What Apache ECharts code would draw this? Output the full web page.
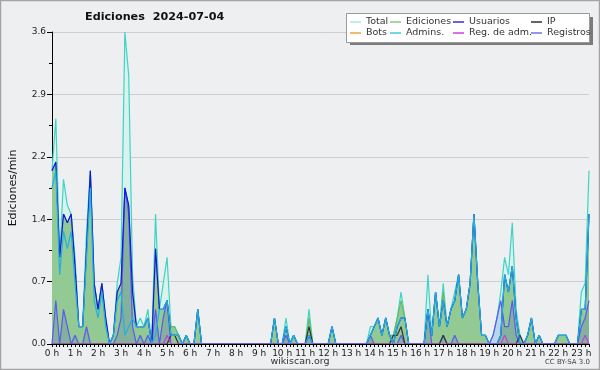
<!DOCTYPE html>
<html>
<head>
<meta charset="utf-8">
<script src="https://cdn.jsdelivr.net/npm/echarts@6/dist/echarts.min.js"></script>
<style>
  html, body { margin: 0; padding: 0; background: #eeeff1; }
  #chart { width: 600px; height: 370px; }
</style>
</head>
<body>
<div id="chart"></div>
<script>
// one value every 10 minutes, 0:00 .. 23:20 (edits per minute)
const horas = ["0 h", "1 h", "2 h", "3 h", "4 h", "5 h", "6 h", "7 h", "8 h", "9 h", "10 h", "11 h",
  "12 h", "13 h", "14 h", "15 h", "16 h", "17 h", "18 h", "19 h", "20 h", "21 h", "22 h", "23 h"];

const total = [
  2.0,2.6,1.0,1.9,1.6,1.5, 1.0,0.2,0.2,1.3,2.0,0.7, 0.4,0.7,0.3,0,0.1,0.7, 1.0,3.6,3.1,0.8,0.2,0.3, 0.2,0.4,0,1.5,0.4,0.7, 1.0,0.2,0.2,0.1,0,0.1,
  0,0,0.4,0,0,0, 0,0,0,0,0,0, 0,0,0,0,0,0, 0,0,0,0,0.3,0, 0,0.3,0,0.1,0,0, 0,0.4,0,0,0,0,
  0,0.2,0,0,0,0, 0,0,0,0,0,0.2, 0.2,0.3,0.1,0.3,0.1,0.1, 0.3,0.6,0.3,0,0,0, 0,0,0.8,0.1,0.6,0.2, 0.7,0.2,0.4,0.6,0.8,0.3,
  0.4,0.7,1.5,0.7,0.1,0.1, 0,0.1,0.3,0.6,1.0,0.8, 1.4,0.4,0.1,0,0.1,0.3, 0,0.1,0,0,0,0, 0.1,0.1,0.1,0,0,0, 0.6,0.7,2.0
];
const ediciones = [
  2.0,2.1,1.0,1.5,1.4,1.5, 0.9,0.2,0.2,1.1,2.0,0.7, 0.4,0.7,0.3,0,0.1,0.6, 0.7,1.8,1.6,0.6,0.2,0.2, 0.2,0.3,0,1.1,0.4,0.4, 0.5,0.2,0.2,0.1,0,0.1,
  0,0,0.4,0,0,0, 0,0,0,0,0,0, 0,0,0,0,0,0, 0,0,0,0,0.3,0, 0,0.2,0,0.1,0,0, 0,0.3,0,0,0,0,
  0,0.2,0,0,0,0, 0,0,0,0,0,0.1, 0.2,0.3,0.1,0.3,0.1,0.1, 0.3,0.5,0.3,0,0,0, 0,0,0.4,0.1,0.6,0.2, 0.6,0.2,0.4,0.5,0.8,0.3,
  0.4,0.7,1.5,0.7,0.1,0.1, 0,0,0,0.1,0.8,0.6, 0.9,0.3,0.1,0,0.1,0.3, 0,0.1,0,0,0,0, 0.1,0.1,0.1,0,0,0, 0.4,0.4,1.5
];
const usuarios = [
  2.0,2.1,1.0,1.5,1.4,1.5, 0.9,0.2,0.2,1.1,2.0,0.7, 0.4,0.7,0.3,0,0.1,0.6, 0.7,1.8,1.6,0.6,0.2,0.2, 0.2,0.3,0,1.1,0.4,0.4, 0.5,0.1,0.1,0.1,0,0.1,
  0,0,0.4,0,0,0, 0,0,0,0,0,0, 0,0,0,0,0,0, 0,0,0,0,0.3,0, 0,0.2,0,0.1,0,0, 0,0.1,0,0,0,0,
  0,0.2,0,0,0,0, 0,0,0,0,0,0.1, 0.2,0.3,0.1,0.3,0.1,0, 0.2,0.3,0.3,0,0,0, 0,0,0.4,0.1,0.6,0.2, 0.5,0.2,0.4,0.5,0.8,0.3,
  0.4,0.7,1.5,0.7,0.1,0.1, 0,0,0,0.1,0.8,0.6, 0.9,0.3,0,0,0.1,0.3, 0,0.1,0,0,0,0, 0.1,0.1,0.1,0,0,0, 0.4,0.4,1.5
];
const ip = [
  0,0,0,0,0,0, 0,0,0,0,0,0, 0,0,0,0,0,0, 0,0,0,0,0,0, 0,0,0,0,0,0, 0,0.1,0.1,0,0,0,
  0,0,0,0,0,0, 0,0,0,0,0,0, 0,0,0,0,0,0, 0,0,0,0,0,0, 0,0,0,0,0,0, 0,0.2,0,0,0,0,
  0,0,0,0,0,0, 0,0,0,0,0,0, 0,0,0,0,0,0.1, 0.1,0.2,0,0,0,0, 0,0,0,0,0,0, 0.1,0,0,0,0,0,
  0,0,0,0,0,0, 0,0,0,0,0,0, 0,0,0.1,0,0,0, 0,0,0,0,0,0, 0,0,0,0,0,0, 0,0,0
];
const bots = [
  0,0,0,0,0,0, 0,0,0,0,0,0, 0,0,0,0,0,0, 0,0,0,0,0,0, 0,0,0,0,0,0, 0,0,0,0,0,0,
  0,0,0,0,0,0, 0,0,0,0,0,0, 0,0,0,0,0,0, 0,0,0,0,0,0, 0,0,0,0,0,0, 0,0,0,0,0,0,
  0,0,0,0,0,0, 0,0,0,0,0,0, 0,0,0,0,0,0, 0,0,0,0,0,0, 0,0,0,0,0,0, 0,0,0,0,0,0,
  0,0,0,0,0,0, 0,0,0,0,0,0, 0,0,0,0,0,0, 0,0,0,0,0,0, 0,0,0,0,0,0, 0,0,0
];
const admins = [
  1.8,2.0,0.8,1.3,1.1,1.3, 0.7,0.2,0.2,1.0,1.8,0.5, 0.3,0.6,0.2,0,0.1,0.5, 0.6,0.1,0.2,0.3,0.2,0.2, 0.2,0.3,0,0.1,0.4,0.4, 0.5,0.1,0.1,0.1,0,0.1,
  0,0,0.4,0,0,0, 0,0,0,0,0,0, 0,0,0,0,0,0, 0,0,0,0,0.3,0, 0,0.2,0,0.1,0,0, 0,0.1,0,0,0,0,
  0,0.2,0,0,0,0, 0,0,0,0,0,0.1, 0.2,0.3,0.1,0.3,0.1,0, 0.2,0.3,0.3,0,0,0, 0,0,0.4,0.1,0.6,0.2, 0.5,0.2,0.4,0.5,0.8,0.3,
  0.4,0.7,1.5,0.7,0.1,0.1, 0,0,0,0.1,0.8,0.6, 0.9,0.3,0,0,0.1,0.3, 0,0.1,0,0,0,0, 0.1,0.1,0.1,0,0,0, 0.4,0.4,1.5
];
const regAdm = [
  0,0,0,0,0,0, 0,0,0,0,0,0, 0,0,0,0,0,0, 0,0,0,0,0,0, 0,0,0,0,0,0, 0.1,0,0,0,0,0,
  0,0,0,0,0,0, 0,0,0,0,0,0, 0,0,0,0,0,0, 0,0,0,0,0,0, 0,0,0,0,0,0, 0,0,0,0,0,0,
  0,0,0,0,0,0, 0,0,0,0,0,0, 0,0,0,0,0,0, 0,0,0,0,0,0, 0,0,0,0,0,0, 0,0,0,0,0,0,
  0,0,0,0,0,0, 0,0,0,0,0.1,0, 0,0,0,0,0,0, 0,0,0,0,0,0, 0,0,0,0,0,0, 0,0.1,0
];
const registros = [
  0,0.5,0,0.4,0.2,0, 0.1,0,0,0.2,0,0, 0,0,0,0,0,0.1, 0.3,1.8,1.5,0.2,0,0.1, 0,0.1,0,0.4,0,0.3, 0.5,0,0,0,0,0,
  0,0,0,0,0,0, 0,0,0,0,0,0, 0,0,0,0,0,0, 0,0,0,0,0,0, 0,0.1,0,0,0,0, 0,0.1,0,0,0,0,
  0,0,0,0,0,0, 0,0,0,0,0,0.1, 0,0,0,0,0,0, 0,0.1,0,0,0,0, 0,0,0.4,0,0,0, 0.1,0,0,0.1,0,0,
  0,0,0,0,0,0, 0,0.1,0.3,0.5,0.2,0.2, 0.5,0.1,0,0,0,0, 0,0,0,0,0,0, 0,0,0,0,0,0, 0.2,0.3,0.5
];

const tiempos = total.map((_, i) => Math.floor(i / 6) + ":" + (i % 6) + "0");

const FONT = "'DejaVu Sans', sans-serif";

function serie(name, data, color, extra) {
  return Object.assign({
    name: name,
    type: "line",
    data: data,
    symbol: "none",
    showSymbol: false,
    lineStyle: { color: color, width: 1.2 },
    itemStyle: { color: color },
    emphasis: { disabled: true },
  }, extra || {});
}

function legendCol(left, items) {
  return {
    orient: "vertical",
    left: left,
    top: 16.5,
    padding: 0,
    itemGap: 0,
    itemWidth: 11,
    itemHeight: 1.5,
    icon: "rect",
    selectedMode: false,
    z: 6,
    textStyle: { fontFamily: FONT, fontSize: 9.5, color: "#333", lineHeight: 11 },
    data: items.map(([name, color]) => ({ name: name, itemStyle: { color: color } })),
  };
}

const chart = echarts.init(document.getElementById("chart"));
chart.setOption({
  animation: false,
  backgroundColor: "#eeeff1",
  title: {
    text: "Ediciones  2024-07-04",
    left: 85,
    top: 12,
    padding: 0,
    textStyle: { fontFamily: FONT, fontWeight: "bold", fontSize: 11.2, color: "#111" },
  },
  legend: [
    legendCol(350, [["Total", "#a8e6e6"], ["Bots", "#f0a040"]]),
    legendCol(390, [["Ediciones", "#80d080"], ["Admins.", "#40c8e0"]]),
    legendCol(453, [["Usuarios", "#3030d0"], ["Reg. de adm.", "#d040e0"]]),
    legendCol(531, [["IP", "#333333"], ["Registros", "#7070f0"]]),
  ],
  graphic: [
    { type: "rect", z: 0, silent: true, shape: { x: 0.5, y: 0.5, width: 599, height: 369 },
      style: { fill: "none", stroke: "#a4a4a4", lineWidth: 1.5 } },
    { type: "rect", z: 5, silent: true, shape: { x: 350, y: 17, width: 243, height: 28 },
      style: { fill: "#7b7b7b" } },
    { type: "rect", z: 5, silent: true, shape: { x: 346.5, y: 13.5, width: 243, height: 29 },
      style: { fill: "#ffffff", stroke: "#999", lineWidth: 1 } },
    { type: "text", z: 5, silent: true, x: 300, y: 362,
      style: { text: "wikiscan.org", font: "9.5px " + FONT, fill: "#333", align: "center", verticalAlign: "middle" } },
    { type: "text", z: 5, silent: true, x: 590, y: 362,
      style: { text: "CC BY-SA 3.0", font: "7px " + FONT, fill: "#444", align: "right", verticalAlign: "middle" } },
  ],
  grid: { left: 46, right: 11, top: 32, bottom: 26, containLabel: false },
  xAxis: {
    type: "category",
    data: tiempos,
    boundaryGap: false,
    z: 5,
    axisLine: { lineStyle: { color: "#000", width: 1 } },
    axisTick: { interval: 0, length: 3, lineStyle: { color: "#000" } },
    axisLabel: {
      interval: (i) => i % 6 === 0,
      formatter: (v, i) => horas[i / 6],
      margin: 5,
      fontFamily: FONT,
      fontSize: 9,
      color: "#222",
    },
    splitLine: { show: false },
  },
  yAxis: {
    type: "value",
    min: 0,
    max: 3.6,
    interval: 0.72,
    name: "Ediciones/min",
    nameLocation: "middle",
    nameRotate: 90,
    nameGap: 33,
    nameTextStyle: { fontFamily: FONT, fontSize: 11, color: "#111" },
    axisLine: { show: true, lineStyle: { color: "#000" } },
    axisTick: { show: true, length: 5, lineStyle: { color: "#000" } },
    minorTick: { show: true, splitNumber: 2, length: 3, lineStyle: { color: "#000" } },
    axisLabel: { formatter: (v) => v.toFixed(1), margin: 6, fontFamily: FONT, fontSize: 9, color: "#222" },
    splitLine: { lineStyle: { color: "#cdcdcd", width: 1 } },
  },
  series: [
    serie("Total", total, "#3fd3c3", { areaStyle: { color: "#d8f3ee", opacity: 1 } }),
    serie("Ediciones", ediciones, "#5fba5f", { lineStyle: { color: "#5fba5f", width: 1 }, areaStyle: { color: "#93c993", opacity: 1 } }),
    serie("Registros", registros, "#5a5af0", { areaStyle: { color: "rgba(60,70,200,0.18)", opacity: 1 } }),
    serie("Bots", bots, "#f0a040"),
    serie("IP", ip, "#333333"),
    serie("Usuarios", usuarios, "#1414dc"),
    serie("Admins.", admins, "#22b0e0"),
    serie("Reg. de adm.", regAdm, "#c040e0"),
  ],
});
</script>
</body>
</html>
